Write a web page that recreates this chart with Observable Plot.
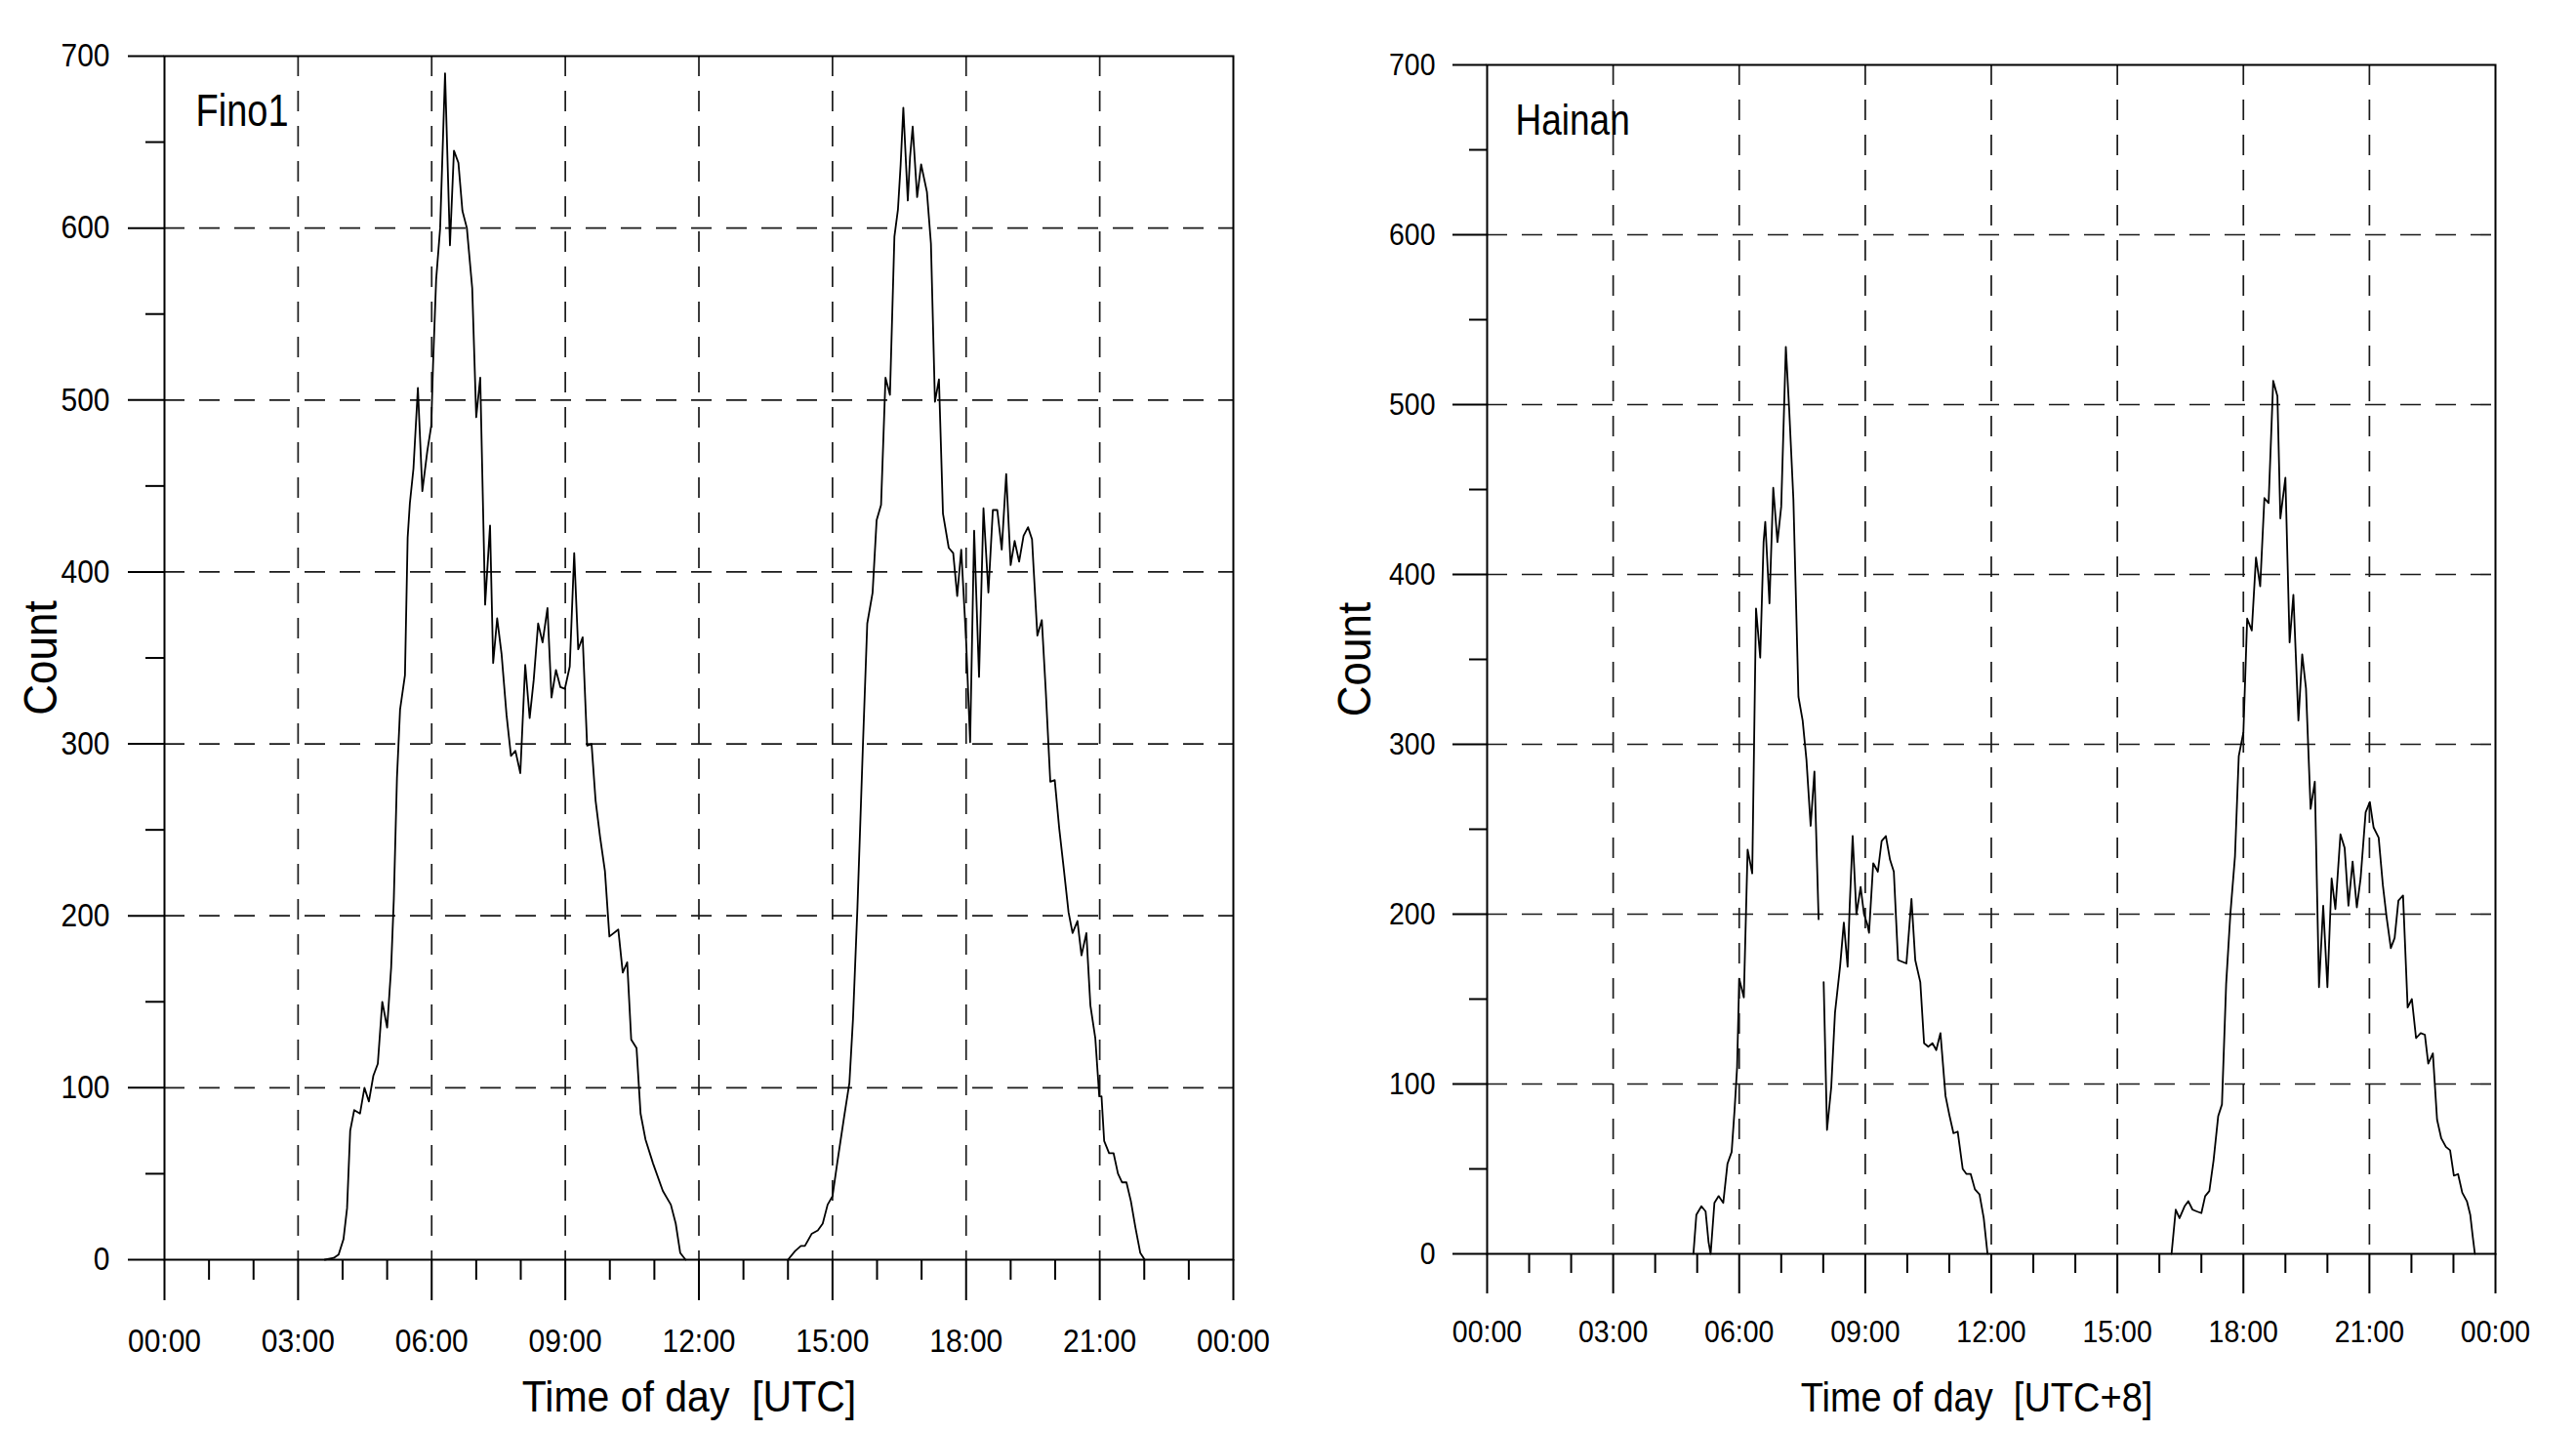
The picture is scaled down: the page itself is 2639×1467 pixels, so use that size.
<!DOCTYPE html>
<html><head><meta charset="utf-8">
<script src="https://cdn.jsdelivr.net/npm/d3@7"></script>
<script src="https://cdn.jsdelivr.net/npm/@observablehq/plot@0.6"></script>
<style>
html,body{margin:0;padding:0;background:#fff;}
#wrap{position:relative;width:2639px;height:1467px;overflow:hidden;background:#fff;}
#wrap svg{position:absolute;top:0;}
#wrap svg text{white-space:pre;}
</style></head><body><div id="wrap"></div>
<script>
// ---- Fino1 (UTC) ----  (null = no record / line break)
const finoHours = [3.60,3.80,3.91,4.02,4.10,4.17,4.26,4.39,4.49,4.59,4.69,4.79,4.89,5.00,5.09,5.15,5.22,5.29,5.40,5.46,5.51,5.59,5.69,5.79,5.90,5.99,6.03,6.10,6.19,6.30,6.41,6.50,6.60,6.69,6.79,6.91,7.00,7.09,7.20,7.31,7.38,7.47,7.57,7.68,7.78,7.88,7.99,8.10,8.20,8.29,8.39,8.49,8.60,8.69,8.79,8.89,8.99,9.10,9.20,9.29,9.39,9.49,9.59,9.68,9.78,9.89,9.99,10.19,10.29,10.39,10.48,10.60,10.69,10.80,10.97,11.19,11.37,11.48,11.58,11.70,
  12.80,
  14.00,14.16,14.29,14.38,14.53,14.67,14.78,14.89,15.00,15.11,15.26,15.38,15.46,15.56,15.68,15.78,15.90,15.99,16.09,16.19,16.29,16.39,16.47,16.53,16.59,16.69,16.74,16.80,16.90,16.99,17.12,17.21,17.30,17.39,17.48,17.61,17.71,17.80,17.89,18.00,18.09,18.18,18.29,18.39,18.50,18.60,18.70,18.80,18.90,19.00,19.09,19.19,19.29,19.39,19.48,19.52,19.60,19.70,19.79,19.89,19.99,20.09,20.19,20.30,20.39,20.50,20.59,20.70,20.79,20.90,20.99,21.04,21.10,21.21,21.31,21.41,21.50,21.60,21.70,21.80,21.91,22.01];
const finoCounts = [0,1,3,12,30,75,87,85,100,92,107,114,150,135,170,210,280,320,340,420,440,460,507,447,470,485,520,570,600,690,590,645,638,610,600,565,490,513,381,427,347,373,352,317,293,296,283,346,315,337,370,359,379,327,343,333,332,345,411,355,362,299,300,267,246,226,188,192,167,173,128,123,85,70,56,40,32,21,4,0,
  null,
  0,5,8,8,15,17,21,32,37,57,83,103,140,205,297,370,388,430,439,513,503,595,611,637,670,616,641,659,618,637,621,591,499,512,434,414,411,386,413,360,301,424,339,437,388,436,436,413,457,404,418,406,421,426,419,400,363,372,330,278,279,251,228,202,190,197,177,190,148,129,95,95,69,62,62,50,45,45,34,19,4,0];

// ---- Hainan (UTC+8) ----  (null = gap in the record)
const hainanHours = [4.91,4.98,5.10,5.20,5.27,5.32,5.41,5.51,5.62,5.72,5.82,5.89,5.95,6.00,6.11,6.20,6.31,6.40,6.50,6.58,6.62,6.72,6.81,6.91,7.00,7.11,7.19,7.29,7.41,7.51,7.60,7.70,7.79,7.89,7.95,8.01,8.09,8.19,8.28,8.40,8.49,8.58,8.63,8.70,8.79,8.89,8.97,9.05,9.09,9.19,9.30,9.39,9.49,9.59,9.68,9.78,9.98,10.10,10.19,10.31,10.40,10.50,10.60,10.69,10.79,10.91,11.00,11.10,11.20,11.32,11.41,11.51,11.61,11.72,11.82,11.91,
  14.00,
  16.29,16.39,16.48,16.60,16.69,16.79,16.89,17.00,17.09,17.19,17.29,17.40,17.49,17.59,17.69,17.80,17.89,18.00,18.09,18.20,18.30,18.40,18.50,18.60,18.71,18.81,18.88,19.00,19.10,19.19,19.31,19.40,19.49,19.60,19.70,19.80,19.90,20.00,20.10,20.19,20.31,20.41,20.50,20.60,20.70,20.79,20.91,21.01,21.10,21.22,21.32,21.41,21.51,21.60,21.69,21.80,21.91,22.01,22.11,22.22,22.32,22.40,22.51,22.61,22.71,22.82,22.92,23.01,23.11,23.21,23.32,23.40,23.46,23.51];
const hainanCounts = [0,23,28,25,7,0,30,34,30,53,60,85,110,162,151,238,224,380,351,419,431,383,451,419,440,534,497,444,328,314,291,252,284,197,null,160,73,98,142,169,195,169,205,246,200,216,200,194,189,230,225,243,246,232,225,173,171,209,173,160,124,122,124,120,130,93,82,71,72,50,47,47,38,35,21,0,
  null,
  0,26,21,28,31,26,25,24,34,37,55,81,88,159,200,234,293,307,374,367,410,393,445,442,514,505,433,457,360,388,314,353,333,262,278,157,205,157,221,203,247,239,205,231,204,221,260,266,251,245,217,198,180,186,208,211,145,150,127,130,129,112,118,79,68,63,61,46,47,36,31,23,10,0];

// ---- axes / grid values ----
const hourMajor = [0,3,6,9,12,15,18,21,24];
const hourMinor = [1,2,4,5,7,8,10,11,13,14,16,17,19,20,22,23];
const hourLabels = ["00:00","03:00","06:00","09:00","12:00","15:00","18:00","21:00","00:00"];
const hourGrid = [3,6,9,12,15,18,21];
const countMajor = [0,100,200,300,400,500,600,700];
const countMinor = [50,150,250,350,450,550,650];
const countGrid = [100,200,300,400,500,600];
const panelNames = ["Fino1", "Hainan"];
const yTitle = "Count";
const xTitles = ["Time of day  [UTC]", "Time of day  [UTC+8]"];

const fino = finoHours.map((h, i) => ({h, c: finoCounts[i]}));
const hainan = hainanHours.map((h, i) => ({h, c: hainanCounts[i]}));

const font = "'Liberation Sans', Arial, sans-serif";
const gridStyle = {stroke: "#1a1a1a", strokeWidth: 1.7, strokeDasharray: "21,15"};
const hourFmt = d => hourLabels[hourMajor.indexOf(d)];
const blank = () => "";

function panel({data, name, xTitle, width, mL, mR, mT, mB, fs, yMaj, yMin, yPad, xMaj, xMin, xPad, nameDx, countDx, titleDx, titleDy, nameFs, titleFs}) {
  return Plot.plot({
    width, height: 1467,
    marginLeft: mL, marginRight: mR, marginTop: mT, marginBottom: mB,
    x: {domain: [0, 24]},
    y: {domain: [0, 700]},
    style: {fontFamily: font, fontSize: fs + "px", color: "black", background: "white", overflow: "visible"},
    marks: [
      Plot.ruleY(countGrid, gridStyle),
      Plot.ruleX(hourGrid, gridStyle),
      Plot.frame({stroke: "black", strokeWidth: 2}),
      Plot.axisY({ticks: countMajor, tickSize: yMaj, tickPadding: yPad, strokeWidth: 2, tickFormat: d => String(d), label: null}),
      Plot.axisY({ticks: countMinor, tickSize: yMin, strokeWidth: 2, tickFormat: blank, label: null}),
      Plot.axisX({ticks: hourMajor, tickSize: xMaj, tickPadding: xPad, strokeWidth: 2, tickFormat: hourFmt, label: null}),
      Plot.axisX({ticks: hourMinor, tickSize: xMin, strokeWidth: 2, tickFormat: blank, label: null}),
      Plot.line(data, {x: "h", y: "c", stroke: "black", strokeWidth: 1.8}),
      Plot.text([name], {text: d => d, frameAnchor: "top-left", dx: nameDx, dy: 71, lineAnchor: "bottom", fontSize: nameFs}),
      Plot.text([yTitle], {text: d => d, frameAnchor: "left", dx: countDx, rotate: -90, textAnchor: "middle", lineAnchor: "middle", fontSize: 44}),
      Plot.text([xTitle], {text: d => d, frameAnchor: "bottom", dx: titleDx, dy: titleDy, lineAnchor: "bottom", fontSize: titleFs})
    ]
  });
}

const left = panel({data: fino, name: panelNames[0], xTitle: xTitles[0], width: 1320,
  mL: 168, mR: 57, mT: 57, mB: 177, fs: 30,
  yMaj: 37, yMin: 19, yPad: 19, xMaj: 42, xMin: 21, xPad: 29,
  nameDx: 32, countDx: -126, titleDx: -10, titleDy: 155, nameFs: 38, titleFs: 41});
left.style.left = "0px";

const right = panel({data: hainan, name: panelNames[1], xTitle: xTitles[1], width: 1319,
  mL: 203, mR: 83, mT: 66, mB: 183, fs: 28.5,
  yMaj: 35, yMin: 18, yPad: 18, xMaj: 41, xMin: 20, xPad: 27,
  nameDx: 29, countDx: -135, titleDx: -15, titleDy: 161, nameFs: 37, titleFs: 38});
right.style.left = "1320px";

// glyphs in the original are drawn slightly taller than wide: stretch text vertically about its anchor
function stretchText(svg) {
  svg.querySelectorAll("text").forEach(t => {
    const s = t.textContent.trim();
    if (!s) return;
    const k = panelNames.includes(s) ? 1.22 : (s === yTitle || xTitles.includes(s)) ? 1.1 : 1.12;
    const tr = t.getAttribute("transform") || "";
    const y = t.getAttribute("y");
    if (y !== null && y !== "" && !isNaN(+y)) {
      t.setAttribute("transform", `${tr} translate(0,${+y}) scale(1,${k}) translate(0,${-y})`);
    } else {
      t.setAttribute("transform", `${tr} scale(1,${k})`);
    }
  });
}
stretchText(left);
stretchText(right);

const wrap = document.getElementById("wrap");
wrap.appendChild(left);
wrap.appendChild(right);
</script>
</body></html>
